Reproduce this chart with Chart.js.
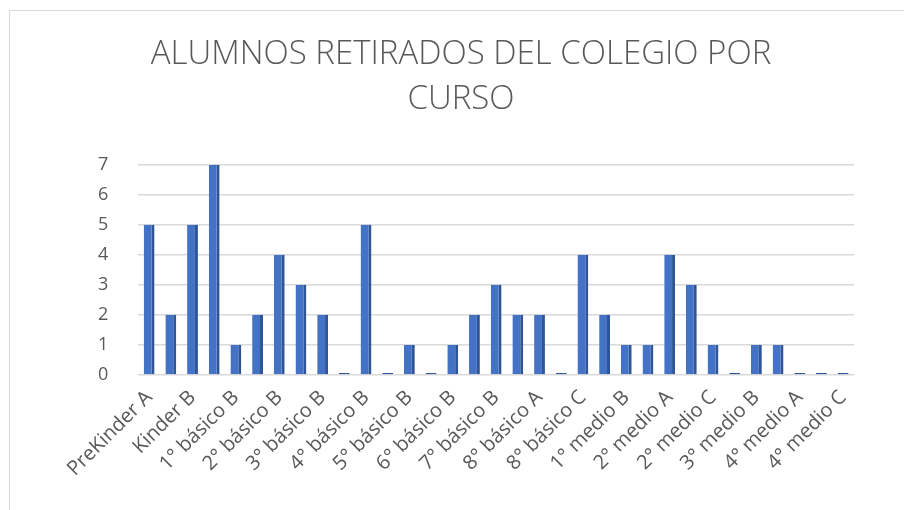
<!DOCTYPE html>
<html lang="es">
<head>
  <meta charset="UTF-8" />
  <title>Alumnos retirados por curso</title>
  <script src="https://cdn.jsdelivr.net/npm/chart.js"></script>
  <style>
    html, body { margin: 0; padding: 0; background: #ffffff; overflow: hidden; }
    .marco {
      position: absolute;
      left: 9px;
      top: 10px;
      width: 895px;
      height: 500px;
      border-left: 1px solid #d9d9d9;
      border-top: 1px solid #d9d9d9;
    }
  </style>
</head>
<body>
  <div class="marco">
    <canvas id="grafico" width="895" height="500"></canvas>
  </div>

  <script>
    // Cursos (solo se muestra uno de cada dos en el eje)
    const cursos = [
      'PreKinder A', 'Kinder A', 'Kinder B',
      '1° básico A', '1° básico B', '2° básico A', '2° básico B',
      '3° básico A', '3° básico B', '4° básico A', '4° básico B',
      '5° básico A', '5° básico B', '6° básico A', '6° básico B',
      '7° básico A', '7° básico B', '7° básico C',
      '8° básico A', '8° básico B', '8° básico C',
      '1° medio A', '1° medio B', '1° medio C',
      '2° medio A', '2° medio B', '2° medio C',
      '3° medio A', '3° medio B', '3° medio C',
      '4° medio A', '4° medio B', '4° medio C'
    ];
    const retirados = [
      5, 2, 5, 7, 1, 2, 4, 3, 2, 0, 5, 0, 1, 0, 1, 2, 3,
      2, 2, 0, 4, 2, 1, 1, 4, 3, 1, 0, 1, 1, 0, 0, 0
    ];
    const titulo = ['ALUMNOS RETIRADOS DEL COLEGIO POR', 'CURSO'];
    const ticksY = [0, 1, 2, 3, 4, 5, 6, 7];

    const gris = '#595959';

    const ctx = document.getElementById('grafico').getContext('2d');
    new Chart(ctx, {
      type: 'bar',
      data: {
        labels: cursos,
        datasets: [{
          data: retirados,
          // las barras en cero se ven como un trazo oscuro
          backgroundColor: (c) => (c.raw === 0 ? '#2f5597' : '#4472c4'),
          borderColor: '#2f5597',
          borderWidth: { right: 3, top: 0, left: 0, bottom: 0 },
          borderSkipped: false,
          minBarLength: 2,
          barPercentage: 0.5,
          categoryPercentage: 1
        }]
      },
      options: {
        responsive: false,
        animation: false,
        layout: { padding: { top: 20, right: 51, bottom: 27, left: 58 } },
        plugins: {
          legend: { display: false },
          tooltip: { enabled: false },
          title: {
            display: true,
            text: titulo,
            color: gris,
            font: { family: 'Open Sans', size: 33, weight: '300', lineHeight: 1.36 },
            padding: { top: 1, bottom: 43 }
          }
        },
        scales: {
          x: {
            grid: { display: false },
            border: { display: false },
            ticks: {
              autoSkip: false,
              maxRotation: 45,
              minRotation: 45,
              color: gris,
              font: { family: 'Open Sans', size: 20 },
              callback: (v, i) => (i % 2 === 0 ? cursos[i] : '')
            }
          },
          y: {
            min: 0,
            max: 7,
            afterBuildTicks: (axis) => {
              axis.ticks = ticksY.map(v => ({ value: v }));
            },
            border: { display: false },
            grid: { color: '#d9d9d9', lineWidth: 1.5, drawTicks: false },
            ticks: {
              padding: 30,
              color: gris,
              font: { family: 'Open Sans', size: 18 }
            }
          }
        }
      }
    });
  </script>
</body>
</html>
